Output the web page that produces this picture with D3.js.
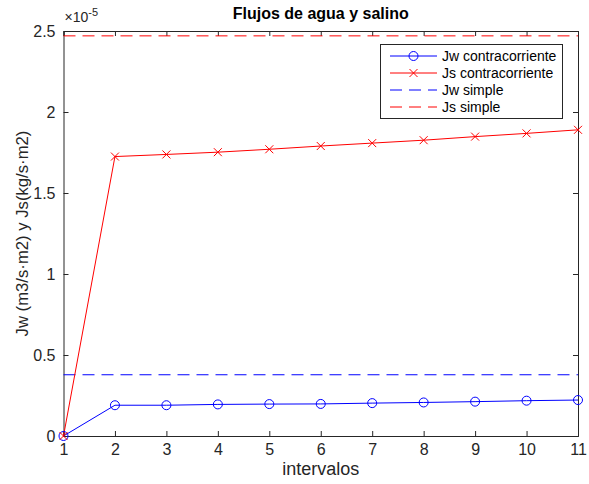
<!DOCTYPE html>
<html>
<head>
<meta charset="utf-8" />
<title>Flujos de agua y salino</title>
<script src="https://d3js.org/d3.v7.min.js"></script>
<style>
  body { margin: 0; background: #fff; }
  text { font-family: "Liberation Sans", Arial, Helvetica, sans-serif; }
</style>
</head>
<body>
<svg id="chart" width="589" height="484"></svg>
<script>
// data (values in m3/s·m2 and kg/s·m2)
var intervalos = [1, 2, 3, 4, 5, 6, 7, 8, 9, 10, 11];
var jwContra = [0, 0.190e-5, 0.190e-5, 0.195e-5, 0.197e-5, 0.198e-5, 0.203e-5, 0.207e-5, 0.212e-5, 0.218e-5, 0.222e-5];
var jsContra = [0, 1.725e-5, 1.738e-5, 1.752e-5, 1.770e-5, 1.790e-5, 1.808e-5, 1.826e-5, 1.848e-5, 1.868e-5, 1.890e-5];
var jwSimple = 0.378e-5;
var jsSimple = 2.47e-5;
var yTicks = [0, 0.5e-5, 1e-5, 1.5e-5, 2e-5, 2.5e-5];
var legendLabels = ["Jw contracorriente", "Js contracorriente", "Jw simple", "Js simple"];

var svg = d3.select("#chart");
var margin = {left: 63.5, right: 11, top: 31, bottom: 48};
var W = 589, H = 484;
var axisColor = "#262626";

var x = d3.scaleLinear().domain([1, 11]).range([margin.left, W - margin.right]);
var y = d3.scaleLinear().domain([0, 2.5e-5]).range([H - margin.bottom, margin.top]);

var fmtY = function(d) { return d3.format("~g")(+(d / 1e-5).toFixed(2)); };

// axes (ticks pointing inward, box on)
var gx = svg.append("g").attr("transform", "translate(0," + y(0) + ")")
  .call(d3.axisBottom(x).tickValues(intervalos).tickSize(-5).tickPadding(8).tickFormat(d3.format("d")));
var gxTop = svg.append("g").attr("transform", "translate(0," + y(2.5e-5) + ")")
  .call(d3.axisTop(x).tickValues(intervalos).tickSize(-5).tickFormat(""));
var gy = svg.append("g").attr("transform", "translate(" + x(1) + ",0)")
  .call(d3.axisLeft(y).tickValues(yTicks).tickSize(-5).tickPadding(8).tickFormat(fmtY));
var gyRight = svg.append("g").attr("transform", "translate(" + x(11) + ",0)")
  .call(d3.axisRight(y).tickValues(yTicks).tickSize(-5).tickFormat(""));

[gx, gxTop, gy, gyRight].forEach(function(g) {
  g.selectAll("path").attr("stroke", axisColor).attr("stroke-width", 1);
  g.selectAll("line").attr("stroke", axisColor).attr("stroke-width", 1);
  g.selectAll("text").attr("fill", axisColor).style("font-size", "16px")
    .style("font-family", "Liberation Sans, Arial, sans-serif");
});

// exponent label
var expo = svg.append("text").attr("x", x(1) + 1).attr("y", 22).attr("fill", axisColor)
  .style("font-size", "14px");
expo.append("tspan").text("\u00d710");
expo.append("tspan").attr("dy", -6).style("font-size", "11px").text("-5");

// title and labels
svg.append("text").attr("x", (x(1) + x(11)) / 2).attr("y", 19).attr("text-anchor", "middle")
  .style("font-size", "16px").style("font-weight", "bold").attr("fill", "#000")
  .text("Flujos de agua y salino");
svg.append("text").attr("x", (x(1) + x(11)) / 2).attr("y", 475).attr("text-anchor", "middle")
  .style("font-size", "18px").attr("fill", axisColor).text("intervalos");
svg.append("text").attr("transform", "translate(28," + ((y(0) + y(2.5e-5)) / 2) + ") rotate(-90)")
  .attr("text-anchor", "middle").style("font-size", "16.7px").attr("fill", axisColor)
  .text("Jw (m3/s\u00b7m2) y Js(kg/s\u00b7m2)");

// reference dashed lines
var dash = "12,7";
svg.append("line").attr("x1", x(1)).attr("x2", x(11)).attr("y1", y(jwSimple)).attr("y2", y(jwSimple))
  .attr("stroke", "#0000ff").attr("stroke-dasharray", dash);
svg.append("line").attr("x1", x(1)).attr("x2", x(11)).attr("y1", y(jsSimple)).attr("y2", y(jsSimple))
  .attr("stroke", "#ff0000").attr("stroke-dasharray", dash);

var line = d3.line().x(function(d, i) { return x(intervalos[i]); }).y(function(d) { return y(d); });

svg.append("path").datum(jsContra).attr("d", line).attr("fill", "none").attr("stroke", "#ff0000");
svg.append("path").datum(jwContra).attr("d", line).attr("fill", "none").attr("stroke", "#0000ff");

function cross(g, cx, cy, s) {
  g.append("path").attr("d", "M" + (cx - s) + "," + (cy - s) + "L" + (cx + s) + "," + (cy + s) +
    "M" + (cx - s) + "," + (cy + s) + "L" + (cx + s) + "," + (cy - s))
    .attr("stroke", "#ff0000").attr("fill", "none");
}

svg.append("g").selectAll("circle").data(jwContra).enter().append("circle")
  .attr("cx", function(d, i) { return x(intervalos[i]); })
  .attr("cy", function(d) { return y(d); })
  .attr("r", 4.5).attr("fill", "none").attr("stroke", "#0000ff");

var gCross = svg.append("g");
jsContra.forEach(function(d, i) { cross(gCross, x(intervalos[i]), y(d), 4); });

// legend
var lg = svg.append("g");
lg.append("rect").attr("x", 380.5).attr("y", 44.5).attr("width", 182).attr("height", 74)
  .attr("fill", "#fff").attr("stroke", axisColor);
var rowY = [56, 73, 90, 107];
var colors = ["#0000ff", "#ff0000", "#0000ff", "#ff0000"];
legendLabels.forEach(function(lab, i) {
  var ly = rowY[i];
  lg.append("line").attr("x1", 390).attr("x2", 437).attr("y1", ly).attr("y2", ly)
    .attr("stroke", colors[i]).attr("stroke-dasharray", i >= 2 ? "12,7" : null);
  if (i === 0) lg.append("circle").attr("cx", 413.5).attr("cy", ly).attr("r", 4.5)
    .attr("fill", "none").attr("stroke", "#0000ff");
  if (i === 1) cross(lg, 413.5, ly, 4);
  lg.append("text").attr("x", 442).attr("y", ly + 5).style("font-size", "14px")
    .attr("fill", "#000").text(lab);
});
</script>
</body>
</html>
